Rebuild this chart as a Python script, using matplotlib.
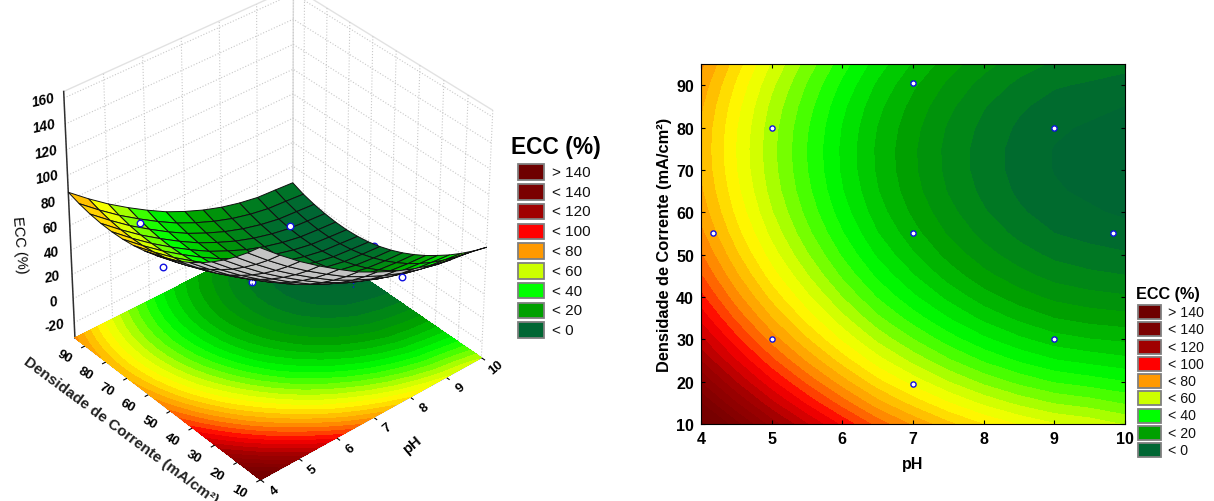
import numpy as np
import matplotlib
matplotlib.use("Agg")
import matplotlib.pyplot as plt
from matplotlib.patches import Rectangle
from matplotlib.colors import LinearSegmentedColormap, Normalize
from mpl_toolkits.mplot3d import proj3d

plt.rcParams['font.family'] = ['Liberation Sans', 'DejaVu Sans']

ph_values = [4, 4.5, 5, 5.5, 6, 6.5, 7, 7.5, 8, 8.5, 9, 9.5, 10]
density_values = [10, 15, 20, 25, 30, 35, 40, 45, 50, 55, 60, 65, 70, 75, 80, 85, 90, 95]
# ECC (%): one row per pH, one column per current density
ecc_table = [
    [149.7, 139.4, 129.9, 121.2, 113.4, 106.4, 100.2, 94.8, 90.3, 86.6, 83.7, 81.6, 80.4, 80.0, 80.4, 81.6, 83.7, 86.6],
    [136.3, 126.0, 116.6, 108.0, 100.2, 93.2, 87.1, 81.8, 77.3, 73.6, 70.8, 68.8, 67.6, 67.2, 67.7, 69.0, 71.1, 74.0],
    [123.8, 113.6, 104.2, 95.6, 87.9, 81.0, 74.9, 69.6, 65.2, 61.6, 58.8, 56.8, 55.7, 55.4, 55.9, 57.2, 59.4, 62.4],
    [112.6, 102.4, 93.1, 84.6, 76.9, 70.0, 64.0, 58.8, 54.4, 50.8, 48.1, 46.2, 45.1, 44.8, 45.4, 46.8, 49.0, 52.0],
    [102.2, 92.1, 82.8, 74.3, 66.6, 59.8, 53.8, 48.6, 44.3, 40.8, 38.1, 36.2, 35.2, 35.0, 35.6, 37.0, 39.3, 42.4],
    [92.5, 82.4, 73.2, 64.8, 57.2, 50.4, 44.5, 39.4, 35.1, 31.6, 29.0, 27.2, 26.2, 26.0, 26.7, 28.2, 30.5, 33.6],
    [84.6, 74.6, 65.4, 57.0, 49.5, 42.7, 36.8, 31.8, 27.5, 24.1, 21.5, 19.7, 18.8, 18.7, 19.4, 20.9, 23.2, 26.4],
    [77.6, 67.6, 58.4, 50.1, 42.6, 36.0, 30.1, 25.0, 20.8, 17.4, 14.9, 13.1, 12.2, 12.1, 12.9, 14.5, 16.9, 20.1],
    [71.7, 61.7, 52.6, 44.3, 36.9, 30.2, 24.4, 19.4, 15.3, 12.0, 9.5, 7.8, 6.9, 6.9, 7.7, 9.3, 11.7, 15.0],
    [67.0, 57.1, 48.0, 39.8, 32.4, 25.8, 20.0, 15.1, 11.0, 7.7, 5.2, 3.6, 2.8, 2.8, 3.7, 5.3, 7.8, 11.1],
    [63.3, 53.5, 44.5, 36.3, 28.9, 22.4, 16.7, 11.8, 7.8, 4.5, 2.1, 0.5, -0.2, -0.2, 0.7, 2.4, 5.0, 8.3],
    [61.3, 51.5, 42.6, 34.4, 27.1, 20.6, 15.0, 10.1, 6.1, 2.9, 0.6, -0.9, -1.7, -1.6, -0.6, 1.2, 3.8, 7.2],
    [58.0, 48.8, 40.5, 32.8, 26.0, 19.6, 14.0, 9.1, 5.0, 1.7, -0.8, -2.3, -3.0, -2.8, -1.8, -0.1, 2.4, 6.0],
]
point_ph = [4.17, 5, 5, 7, 7, 7, 9, 9, 9.83]
point_density = [55, 30, 80, 19.5, 55, 90.5, 30, 80, 55]
point_ecc = [75, 82, 66, 78, 27, 22, 24, 3, 5]
point_hidden = [False, True, False, True, True, True, False, False, True]
stem_ph = [5, 7]
stem_density = [30, 19.5]
stem_low = [80, 60]
stem_high = [88, 66]

legend_labels = ['> 140', '< 140', '< 120', '< 100', '< 80', '< 60', '< 40', '< 20', '< 0']
legend_colors = ['#6e0000', '#7a0000', '#a00000', '#ff0000', '#ff9900', '#ccff00', '#00ff00', '#00a000', '#006633']
anchor_values = [0, 20, 40, 60, 68, 77, 86, 95, 103, 120, 140, 160]
anchor_colors = ['#006633', '#00a000', '#00ff00', '#ccff00', '#ffff00', '#ffcc00', '#ff9900', '#ff5000',
                 '#ff0000', '#a00000', '#780000', '#6e0000']
level_step = 4.5

cmap = LinearSegmentedColormap.from_list('ecc', [((v - 0) / 160, c) for v, c in zip(anchor_values, anchor_colors)])
norm = Normalize(0, 160)
levels = np.concatenate([[-12], np.arange(0, 162, level_step)])
band_colors = [cmap(norm(max((a + b) / 2, 0) if a >= 0 else 0)) for a, b in zip(levels[:-1], levels[1:])]

P, D = np.meshgrid(ph_values, density_values, indexing='ij')
Z = np.array(ecc_table)

W, H = 1214, 502
fig = plt.figure(figsize=(W / 100, H / 100), dpi=100)
fx = lambda x: x / W
fy = lambda y: 1 - y / H


def draw_legend(x0, swatch_w, swatch_h, y0, dy, tx, fs, title_x, title_y, title_fs):
    fig.text(fx(title_x), fy(title_y), 'ECC (%)', fontsize=title_fs, fontweight='bold', va='center', ha='left')
    for i, (lab, col) in enumerate(zip(legend_labels, legend_colors)):
        y = y0 + i * dy
        fig.add_artist(Rectangle((fx(x0), fy(y + swatch_h / 2)), swatch_w / W, swatch_h / H, transform=fig.transFigure,
                                 facecolor=col, edgecolor='#7f7f7f', linewidth=1.3))
        fig.text(fx(tx), fy(y), lab, fontsize=fs, va='center', ha='left', color='#111111')


# ---------- right contour panel
ax = fig.add_axes([fx(701), fy(425), 424 / W, 360 / H])
ax.contourf(P, D, Z, levels=levels, colors=band_colors, antialiased=False)
ax.scatter(point_ph, point_density, s=14, facecolor='white', edgecolor='#1010e0', linewidth=1.0, zorder=5, clip_on=False)
ax.set_xlim(4, 10)
ax.set_ylim(10, 95)
ax.set_xticks([4, 5, 6, 7, 8, 9, 10])
ax.set_yticks(range(10, 91, 10))
ax.tick_params(axis='both', direction='in', length=3, width=0.8, top=True, right=True, pad=5, labelsize=11.5)
for t in ax.get_xticklabels() + ax.get_yticklabels():
    t.set_fontweight('bold')
ax.set_xlabel('pH', fontsize=11.5, fontweight='bold', labelpad=7)
ax.set_ylabel('Densidade de Corrente (mA/cm²)', fontsize=11.8, fontweight='bold', labelpad=3)
draw_legend(1138, 23, 14, 313, 17.25, 1168, 10.2, 1136, 295, 11.7)

# ---------- left 3D panel
zmin, zmax = -33, 165
ax3 = fig.add_axes([0, fy(470), 542 / W, 470 / H], projection='3d', computed_zorder=False)
ax3.set_proj_type('persp', focal_length=1.3)
ax3.view_init(elev=36, azim=-130.5)
ax3.set_box_aspect((1, 1, 1.03), zoom=1.07)
ax3.set_xlim(4, 10)
ax3.set_ylim(10, 95)
ax3.set_zlim(zmin, zmax)
ax3.patch.set_alpha(0)
for axis in (ax3.xaxis, ax3.yaxis, ax3.zaxis):
    axis.set_pane_color((1, 1, 1, 1))
    axis.pane.set_edgecolor('#e2e2e2')
    axis._axinfo['grid'].update(color='#c8c8c8', linestyle=':', linewidth=0.8)
ax3.xaxis.line.set_color('#555555')
ax3.yaxis.line.set_color('#555555')
ax3.set_xticks([4, 5, 6, 7, 8, 9, 10])
ax3.set_yticks(range(10, 91, 10))
ax3.set_zticks(range(-20, 161, 20))
ax3.set_xticklabels([])
ax3.set_yticklabels([])
ax3.set_zticklabels([])
ax3.zaxis.line.set_color((0, 0, 0, 0))
ax3.zaxis._axinfo['tick']['inward_factor'] = 0
ax3.zaxis._axinfo['tick']['outward_factor'] = 0

ax3.contourf(P, D, Z, levels=levels, colors=band_colors, zdir='z', offset=zmin, zorder=1, antialiased=False)
for coll in ax3.collections:
    coll.set_clip_on(False)
vis = ~np.array(point_hidden)
ax3.scatter(np.array(point_ph)[~vis], np.array(point_density)[~vis], np.array(point_ecc)[~vis], s=22,
            facecolor='white', edgecolor='#1010e0', linewidth=1.0, depthshade=False, zorder=2)
for p, d, lo, hi in zip(stem_ph, stem_density, stem_low, stem_high):
    ax3.plot([p, p], [d, d], [lo, hi], color='#1010e0', linestyle=':', linewidth=1, zorder=2)

M = ax3.get_proj()
sx, sy, _ = proj3d.proj_transform(P.ravel(), D.ravel(), Z.ravel(), M)
sx = sx.reshape(P.shape)
sy = sy.reshape(P.shape)
cell_area = ((sx[1:, :-1] - sx[:-1, :-1]) * (sy[1:, 1:] - sy[:-1, :-1]) -
             (sy[1:, :-1] - sy[:-1, :-1]) * (sx[1:, 1:] - sx[:-1, :-1]))
cell_mean = (Z[1:, 1:] + Z[:-1, :-1] + Z[1:, :-1] + Z[:-1, 1:]) / 4
face = cmap(norm(np.clip(cell_mean, 0, 160)))
face[cell_area < 0] = matplotlib.colors.to_rgba('#c4c4c4')
ax3.plot_surface(P, D, Z, facecolors=face, edgecolor='#101010', linewidth=0.7, shade=False, rstride=1, cstride=1,
                 zorder=3, antialiased=True)
ax3.scatter(np.array(point_ph)[vis], np.array(point_density)[vis], np.array(point_ecc)[vis], s=22,
            facecolor='white', edgecolor='#1010e0', linewidth=1.0, depthshade=False, zorder=4)
ax3.plot([4, 4], [95, 95], [zmin, zmax], color='#303030', linewidth=1.1, zorder=0)


def label3d(x, y, z, s, **kw):
    px, py, _ = proj3d.proj_transform(x, y, z, M)
    ax3.text2D(px, py, s, transform=ax3.transData, ha='center', va='center', fontweight='bold', clip_on=False, zorder=6, **kw)


for p in [4, 5, 6, 7, 8, 9, 10]:
    label3d(p, 4, zmin, str(p), fontsize=9.5, rotation=40)
for d in range(10, 91, 10):
    label3d(3.45, d, zmin, str(d), fontsize=9.5, rotation=-30)
for z in range(-20, 161, 20):
    label3d(3.5, 95, z + 6, str(z), fontsize=10, rotation=12, style='italic')

fig.text(fx(19), fy(245), 'ECC (%)', fontsize=10.5, rotation=-85, ha='center', va='center')
fig.text(fx(121), fy(431), 'Densidade de Corrente (mA/cm²)', fontsize=11, fontweight='bold', rotation=-36.5, ha='center', va='center', color='#222222')
fig.text(fx(412), fy(445), 'pH', fontsize=10.5, fontweight='bold', rotation=40, ha='center', va='center')
draw_legend(518, 26, 15.5, 173, 19.75, 552, 11, 511, 148, 16.4)

fig.savefig('out.png', dpi=100)
